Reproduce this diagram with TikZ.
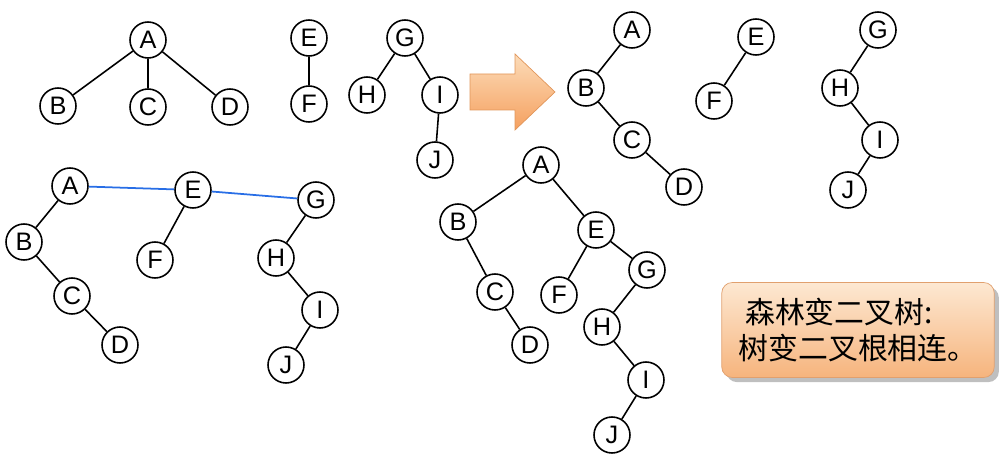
\documentclass[tikz,border=0pt]{standalone}
\usepackage{fontspec}
\setmainfont{Liberation Sans}
\newfontfamily\cjk{Noto Sans CJK SC}
\usetikzlibrary{shadows}
\begin{document}
\begin{tikzpicture}[x=0.02cm,y=-0.02cm,
  n/.style={circle,draw,line width=0.9pt,fill=white,minimum size=0.72cm,inner sep=0pt,font=\Large},
  e/.style={line width=0.9pt},
  b/.style={line width=1pt,draw={rgb,255:red,40;green,110;blue,230}}]
\useasboundingbox (0,0) rectangle (1004,462);
% top-left
\node[n] (a1) at (148,40) {A};
\node[n] (b1) at (58,106) {B};
\node[n] (c1) at (148,107) {C};
\node[n] (d1) at (230,107) {D};
\node[n] (e1) at (309,38) {E};
\node[n] (f1) at (309,104) {F};
\node[n] (g1) at (405,38) {G};
\node[n] (h1) at (367,95) {H};
\node[n] (i1) at (440,95) {I};
\node[n] (j1) at (435,160) {J};
\draw[e] (a1)--(b1) (a1)--(c1) (a1)--(d1) (e1)--(f1) (g1)--(h1) (g1)--(i1) (i1)--(j1);
% arrow
\coordinate (arr) at (470,92);
\draw[draw={rgb,255:red,225;green,150;blue,90},top color={rgb,255:red,252;green,220;blue,185},bottom color={rgb,255:red,245;green,160;blue,95}]
  (arr) ++(0,-18) -- ++(45,0) -- ++(0,-20) -- ++(40,38) -- ++(-40,38) -- ++(0,-20) -- ++(-45,0) -- cycle;
% top-right
\node[n] (a2) at (632,30) {A};
\node[n] (b2) at (586,88) {B};
\node[n] (c2) at (632,140) {C};
\node[n] (d2) at (684,187) {D};
\node[n] (e2) at (756,37) {E};
\node[n] (f2) at (714,101) {F};
\node[n] (g2) at (878,30) {G};
\node[n] (h2) at (840,88) {H};
\node[n] (i2) at (880,140) {I};
\node[n] (j2) at (848,190) {J};
\draw[e] (a2)--(b2)--(c2)--(d2) (e2)--(f2) (g2)--(h2)--(i2)--(j2);
% bottom-left
\node[n] (a3) at (70,186) {A};
\node[n] (b3) at (24,242) {B};
\node[n] (c3) at (72,296) {C};
\node[n] (d3) at (120,345) {D};
\node[n] (e3) at (193,190) {E};
\node[n] (f3) at (155,260) {F};
\node[n] (g3) at (316,200) {G};
\node[n] (h3) at (276,258) {H};
\node[n] (i3) at (320,310) {I};
\node[n] (j3) at (286,365) {J};
\draw[e] (a3)--(b3)--(c3)--(d3) (e3)--(f3) (g3)--(h3)--(i3)--(j3);
\draw[b] (a3)--(e3) (e3)--(g3);
% bottom-middle
\node[n] (a4) at (541,165) {A};
\node[n] (b4) at (458,222) {B};
\node[n] (c4) at (495,292) {C};
\node[n] (d4) at (530,345) {D};
\node[n] (e4) at (596,230) {E};
\node[n] (f4) at (559,295) {F};
\node[n] (g4) at (647,270) {G};
\node[n] (h4) at (602,327) {H};
\node[n] (i4) at (646,380) {I};
\node[n] (j4) at (612,435) {J};
\draw[e] (a4)--(b4)--(c4)--(d4) (a4)--(e4)--(f4) (e4)--(g4)--(h4)--(i4)--(j4);
% box
\node[draw={rgb,255:red,225;green,160;blue,110},rounded corners=6pt,top color={rgb,255:red,253;green,232;blue,210},bottom color={rgb,255:red,246;green,180;blue,125},drop shadow,minimum width=5.45cm,minimum height=1.9cm,align=left,font=\cjk\fontsize{17}{21}\selectfont] (box) at (858,330) {\ 森林变二叉树:\\树变二叉根相连。};
\end{tikzpicture}
\end{document}
